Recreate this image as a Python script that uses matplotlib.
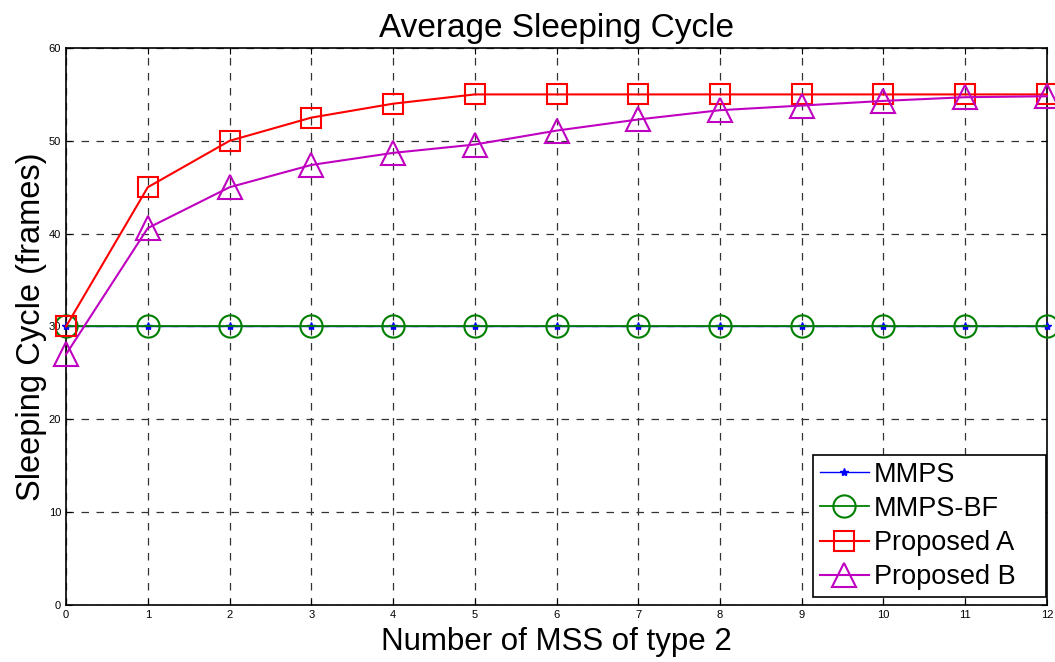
import matplotlib
matplotlib.use("Agg")
import matplotlib.pyplot as plt

plt.rcParams['font.family'] = ['Liberation Sans', 'DejaVu Sans']

# data
n_mss = list(range(13))
mmps = [30] * 13
mmps_bf = [30] * 13
proposed_a = [30, 45, 50, 52.5, 54, 55, 55, 55, 55, 55, 55, 55, 55]
proposed_b = [27, 40.6, 45, 47.4, 48.7, 49.6, 51.1, 52.3, 53.3, 53.8, 54.3, 54.7, 54.8]

fig = plt.figure(figsize=(10.55, 6.62), dpi=100)
ax = fig.add_axes([0.0626, 0.0861, 0.9298, 0.8414])

ax.plot(n_mss, mmps, color='blue', lw=1, marker='*', ms=6, label='MMPS',
        clip_on=False, zorder=3)
ax.plot(n_mss, mmps_bf, color='green', lw=1.3, marker='o', ms=16,
        mfc='none', mew=1.5, label='MMPS-BF', clip_on=False, zorder=3)
ax.plot(n_mss, proposed_a, color='red', lw=1.5, marker='s', ms=14,
        mfc='none', mew=1.5, label='Proposed A', clip_on=False, zorder=3)
ax.plot(n_mss, proposed_b, color='#c000c0', lw=1.5, marker='^', ms=17,
        mfc='none', mew=1.5, label='Proposed B', clip_on=False, zorder=3)

ax.set_xlim(0, 12)
ax.set_ylim(0, 60)
ax.set_xticks(range(13))
ax.set_yticks(range(0, 61, 10))
ax.tick_params(direction='in', labelsize=8, top=True, right=True, length=4)
ax.grid(True, color='#333333', linestyle=(0, (6, 6)), lw=0.9)
for s in ax.spines.values():
    s.set_linewidth(1.2)

ax.set_title('Average Sleeping Cycle', fontsize=24, pad=8)
ax.set_xlabel('Number of MSS of type 2', fontsize=22.5, labelpad=5)
ax.set_ylabel('Sleeping Cycle (frames)', fontsize=23.5, labelpad=1)

leg = ax.legend(loc='lower left', bbox_to_anchor=(0.7615, 0.0144, 0.2375, 0.25),
                mode='expand', fontsize=19.5, fancybox=False, framealpha=1,
                edgecolor='black', borderaxespad=0, handlelength=1.8,
                labelspacing=0.3, borderpad=0.25, handletextpad=0.2)
leg.get_frame().set_linewidth(1.2)
leg.set_zorder(5)

fig.savefig('out.png', dpi=100)
